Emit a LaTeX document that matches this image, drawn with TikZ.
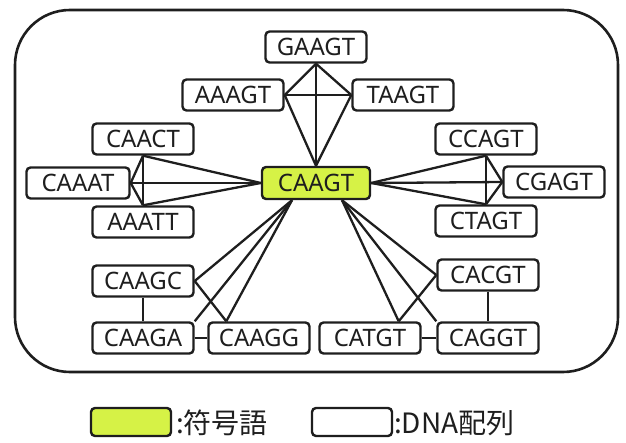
\documentclass[tikz,border=0pt]{standalone}
\usepackage{fontspec}
\setmainfont{Noto Sans}
\newfontfamily\jpfont{Noto Sans CJK JP}
\usetikzlibrary{calc}
\definecolor{codegreen}{RGB}{214,242,70}
\definecolor{ink}{RGB}{30,30,30}
\begin{document}
\begin{tikzpicture}[x=1pt,y=-1pt,
  seq/.style={draw=ink, line width=2.4pt, rounded corners=4pt, minimum width=101pt,
    minimum height=31pt, inner sep=0pt, fill=white, text=ink,
    font=\fontsize{24}{24}\selectfont},
  codeword/.style={seq, fill=codegreen, minimum width=108pt, minimum height=32pt,
    font=\fontsize{24}{24}\selectfont\bfseries},
  link/.style={draw=ink, line width=2.3pt},
  legtext/.style={anchor=west, inner sep=0pt, text=ink, font=\jpfont\fontsize{28}{28}\selectfont}]
\useasboundingbox (0,0) rectangle (626,443);
\draw[ink, line width=2.6pt, rounded corners=55pt] (15,10) rectangle (618,372);

% nodes
\node[codeword] (c) at (316,183) {CAAGT};
\node[seq] (gaagt) at (316,47) {GAAGT};
\node[seq] (aaagt) at (233,95) {AAAGT};
\node[seq] (taagt) at (403,95) {TAAGT};
\node[seq] (caact) at (143,139) {CAACT};
\node[seq, minimum width=103pt] (caaat) at (78,183) {CAAAT};
\node[seq] (aaatt) at (143,222) {AAATT};
\node[seq] (ccagt) at (486,139) {CCAGT};
\node[seq] (cgagt) at (554,182) {CGAGT};
\node[seq] (ctagt) at (486,221) {CTAGT};
\node[seq] (caagc) at (143,281) {CAAGC};
\node[seq] (caaga) at (143,338) {CAAGA};
\node[seq] (caagg) at (259,338) {CAAGG};
\node[seq] (catgt) at (370,338) {CATGT};
\node[seq] (caggt) at (488,338) {CAGGT};
\node[seq] (cacgt) at (488,275) {CACGT};

\coordinate (csl) at ($(c.south)+(-24,0)$);
\coordinate (csr) at ($(c.south)+(26,0)$);
\coordinate (caaggtop) at ($(caagg.north west)+(19,0)$);
\coordinate (catgttop) at ($(catgt.north east)+(-23,0)$);

% top cluster
\draw[link] (gaagt.south) -- (aaagt.east);
\draw[link] (gaagt.south) -- (taagt.west);
\draw[link] (aaagt.east) -- (taagt.west);
\draw[link] (gaagt.south) -- (c.north);
\draw[link] (aaagt.east) -- (c.north);
\draw[link] (taagt.west) -- (c.north);
% left cluster
\draw[link] (caact.south) -- (aaatt.north);
\draw[link] (caaat.east) -- (caact.south);
\draw[link] (caaat.east) -- (aaatt.north);
\draw[link] (c.west) -- (caact.south);
\draw[link] (c.west) -- (caaat.east);
\draw[link] (c.west) -- (aaatt.north);
% right cluster
\draw[link] (ccagt.south) -- (ctagt.north);
\draw[link] (cgagt.west) -- (ccagt.south);
\draw[link] (cgagt.west) -- (ctagt.north);
\draw[link] (c.east) -- (ccagt.south);
\draw[link] (c.east) -- (cgagt.west);
\draw[link] (c.east) -- (ctagt.north);
% bottom-left cluster
\draw[link] (caagc.south) -- (caaga.north);
\draw[link] (caaga.east) -- (caagg.west);
\draw[link] (caagc.east) -- (caaggtop);
\draw[link] (csl) -- (caagc.east);
\draw[link] (csl) -- (caaga.north east);
\draw[link] (csl) -- (caaggtop);
% bottom-right cluster
\draw[link] (cacgt.south) -- (caggt.north);
\draw[link] (catgt.east) -- (caggt.west);
\draw[link] (cacgt.west) -- (catgttop);
\draw[link] (csr) -- (cacgt.west);
\draw[link] (csr) -- (catgttop);
\draw[link] (csr) -- (caggt.north west);

% legend
\node[codeword, minimum width=80pt, minimum height=28pt] (legcode) at (131,422) {};
\node[legtext] (legcodetext) at (176,423) {:符号語};
\node[seq, minimum width=80pt, minimum height=28pt] (legseq) at (352,422) {};
\node[legtext] (legseqtext) at (394,423) {:DNA配列};
\end{tikzpicture}
\end{document}
